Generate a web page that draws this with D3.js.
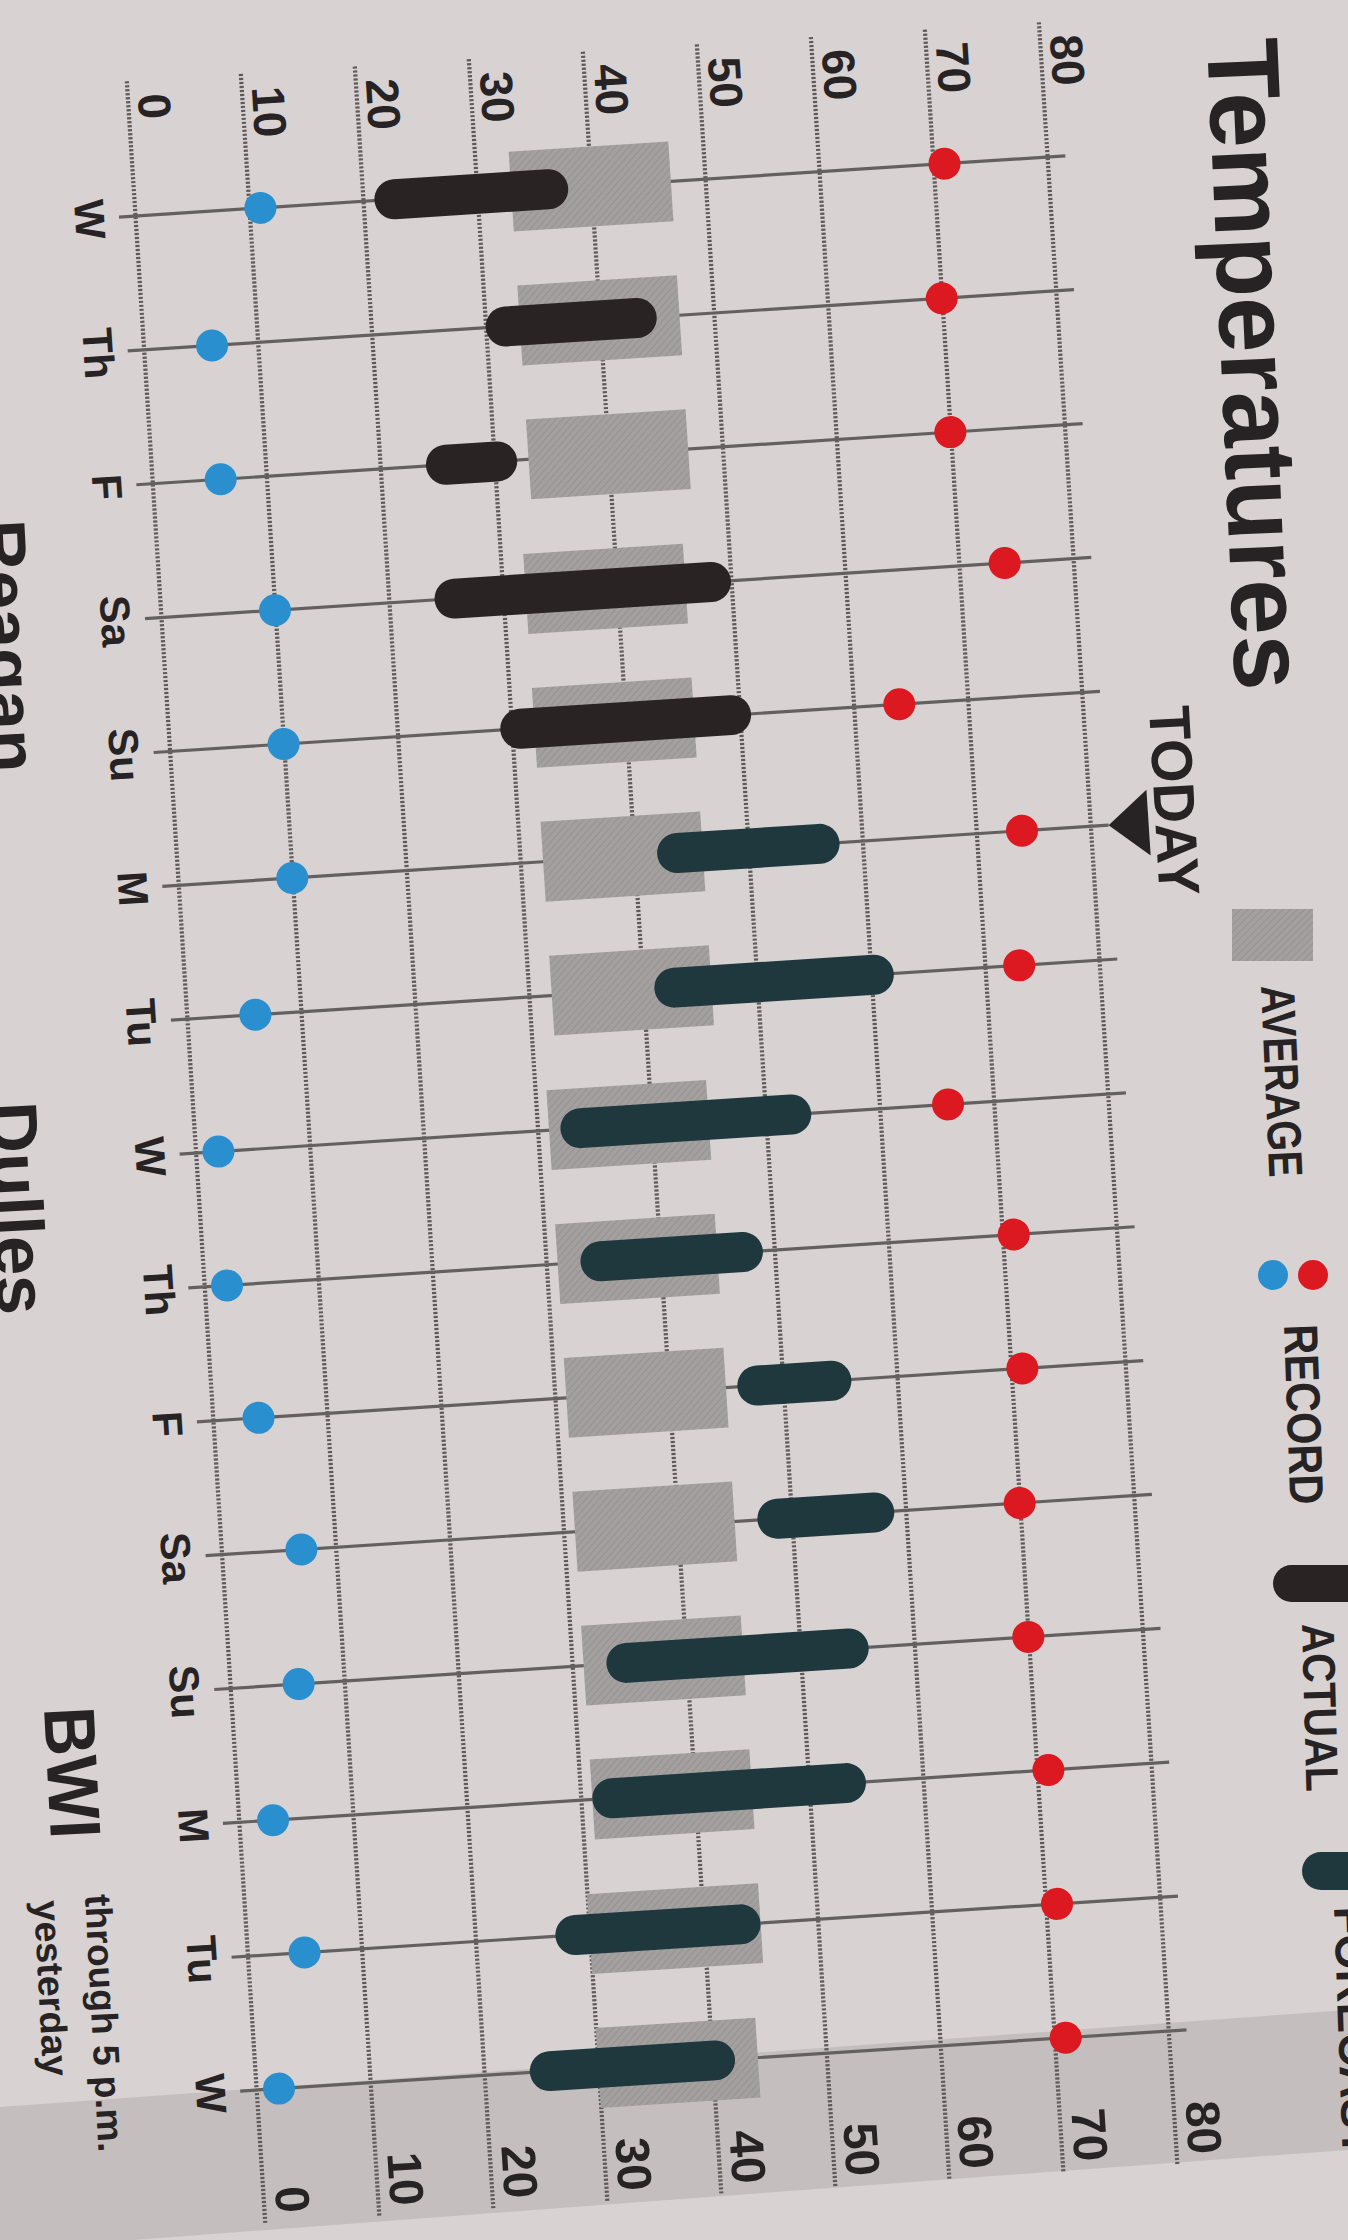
<!DOCTYPE html>
<html>
<head>
<meta charset="utf-8">
<script src="https://cdn.jsdelivr.net/npm/d3@7"></script>
<style>
  html, body { margin: 0; padding: 0; background: #d8d3d2; }
  svg { display: block; font-family: "Liberation Sans", Arial, sans-serif; }
</style>
</head>
<body>
<div id="chart"></div>
<script>
(function(){

/* ---------- data ---------- */
const days = ["W","Th","F","Sa","Su","M","Tu","W","Th","F","Sa","Su","M","Tu","W"];
const tempTicks = [0,10,20,30,40,50,60,70,80];

const recordHigh = [71,70,70,74,64,74,73,66,71,71,70,70,71,71,71];
const recordLow  = [11,6,6,10,10,10,6,2,2,4,7,6,3,5,2];

const avgLow  = [33,33,33,32,32,32,32,31,31,31,31,31,31,30,30];
const avgHigh = [47,47,47,46,46,46,46,45,45,45,45,45,45,45,44];

// W..Su already happened
const actualLow  = [21,30,24,24,29];
const actualHigh = [38,45,32,50,51];
// M (today) .. W
const forecastLow  = [42,41,32,33,46,47,33,31,27,24];
const forecastHigh = [58,62,54,49,56,59,56,55,45,42];
const todayIndex = 5;

/* ---------- page ---------- */
const W = 1348, H = 2240;
const ink = "#272324";

const svg = d3.select("#chart").append("svg")
    .attr("width", W).attr("height", H);

svg.append("rect").attr("width", W).attr("height", H).attr("fill", "#d8d3d2");

// darker fold / shadow across the bottom of the sheet
svg.append("path")
    .attr("d", "M0,2107 L1348,2010 L1348,2150 L600,2205 L0,2250Z")
    .attr("fill", "#c4bfbe");

const defs = svg.append("defs");
const hatch = defs.append("pattern")
    .attr("id", "hatch").attr("patternUnits", "userSpaceOnUse")
    .attr("width", 5).attr("height", 5)
    .attr("patternTransform", "rotate(45)");
hatch.append("rect").attr("width", 5).attr("height", 5).attr("fill", "#a4a0a0");
hatch.append("line").attr("x1", 0).attr("y1", 0).attr("x2", 0).attr("y2", 5)
    .attr("stroke", "#948f8f").attr("stroke-width", 1.6);

/* ---------- plot (sheet is turned 90deg and a little tilted) ---------- */
const x = d3.scaleLinear().domain([0, 80]).range([0, 914]);
const y = d3.scalePoint().domain(d3.range(days.length)).range([0, 1878]);

const plot = svg.append("g").attr("transform", "translate(135,216) rotate(-3.7)");

// temperature grid + top labels
const topAxis = plot.append("g").attr("transform", "translate(0,-135)")
    .call(d3.axisTop(x).tickValues(tempTicks).tickSize(-2147).tickPadding(0));
topAxis.select(".domain").remove();
topAxis.selectAll(".tick line")
    .attr("stroke", "#5f5a59").attr("stroke-width", 4.2)
    .attr("stroke-dasharray", "2.2,1.8");
topAxis.selectAll(".tick text")
    .attr("transform", "rotate(90)")
    .attr("x", 14).attr("y", -10).attr("dy", null)
    .attr("text-anchor", "start")
    .attr("font-size", 46).attr("font-weight", "bold").attr("fill", ink);

// bottom labels
const botAxis = plot.append("g").attr("transform", "translate(0,2003)")
    .call(d3.axisBottom(x).tickValues(tempTicks).tickSize(0));
botAxis.select(".domain").remove();
botAxis.selectAll(".tick text")
    .attr("transform", "rotate(90)")
    .attr("x", 0).attr("y", -12).attr("dy", null)
    .attr("text-anchor", "end")
    .attr("font-size", 48).attr("font-weight", "bold").attr("fill", ink);

// day labels
const dayAxis = plot.append("g")
    .call(d3.axisLeft(y).tickFormat(i => days[i]).tickSize(0));
dayAxis.select(".domain").remove();
dayAxis.selectAll(".tick text")
    .attr("transform", "rotate(90)")
    .attr("x", 0).attr("y", 60).attr("dy", null)
    .attr("text-anchor", "middle")
    .attr("font-size", 42).attr("font-weight", "bold").attr("fill", ink);

// day lines
plot.append("g").selectAll("line")
    .data(d3.range(days.length))
    .join("line")
    .attr("x1", x(-1.4)).attr("x2", x(81.6))
    .attr("y1", d => y(d)).attr("y2", d => y(d))
    .attr("stroke", "#646060").attr("stroke-width", 3.2);

// average boxes
const boxH = 80;
plot.append("g").selectAll("rect")
    .data(d3.range(days.length))
    .join("rect")
    .attr("x", i => x(avgLow[i]))
    .attr("width", i => x(avgHigh[i]) - x(avgLow[i]))
    .attr("y", i => y(i) - boxH / 2)
    .attr("height", boxH)
    .attr("fill", "url(#hatch)");

// actual + forecast bars
const barH = 40;
const bars = actualLow.map((lo, i) => ({i, lo, hi: actualHigh[i], kind: "actual"}))
    .concat(forecastLow.map((lo, k) => ({i: k + todayIndex, lo, hi: forecastHigh[k], kind: "forecast"})));

plot.append("g").selectAll("rect")
    .data(bars)
    .join("rect")
    .attr("x", d => x(d.lo))
    .attr("width", d => x(d.hi) - x(d.lo))
    .attr("y", d => y(d.i) - barH / 2)
    .attr("height", barH)
    .attr("rx", barH / 2)
    .attr("fill", d => d.kind === "actual" ? "#2a2324" : "#1f383d");

// record dots
plot.append("g").selectAll("circle")
    .data(recordHigh)
    .join("circle")
    .attr("cx", d => x(d)).attr("cy", (d, i) => y(i))
    .attr("r", 16).attr("fill", "#dc1820");

plot.append("g").selectAll("circle")
    .data(recordLow)
    .join("circle")
    .attr("cx", d => x(d)).attr("cy", (d, i) => y(i))
    .attr("r", 16).attr("fill", "#2a8fcf");

// today marker
const tx = x(81.6), ty = y(todayIndex);
plot.append("path")
    .attr("d", `M${tx},${ty} L${tx + 40},${ty - 33} L${tx + 40},${ty + 33}Z`)
    .attr("fill", ink);

/* ---------- text around the chart ---------- */
function sideText(t, px, py, size, rot, len) {
    const el = svg.append("text")
        .attr("transform", `translate(${px},${py}) rotate(${rot})`)
        .attr("font-size", size).attr("font-weight", "bold")
        .attr("fill", ink).text(t);
    if (len) el.attr("textLength", len).attr("lengthAdjust", "spacingAndGlyphs");
    return el;
}

sideText("Temperatures", 1207, 40, 102, 87.5, 652);
sideText("TODAY", 1149, 707, 58, 86.8, 190);

// legend swatches
svg.append("rect")
    .attr("x", 1232).attr("y", 909).attr("width", 81).attr("height", 52)
    .attr("fill", "url(#hatch)");
sideText("AVERAGE", 1261, 986, 48, 87.5, 192);

svg.append("circle").attr("cx", 1273).attr("cy", 1275).attr("r", 15).attr("fill", "#2a8fcf");
svg.append("circle").attr("cx", 1313).attr("cy", 1275).attr("r", 15).attr("fill", "#dc1820");
sideText("RECORD", 1284, 1325, 48, 88, 180);

svg.append("rect")
    .attr("x", 1273).attr("y", 1565).attr("width", 140).attr("height", 37)
    .attr("rx", 18.5).attr("fill", "#2a2324");
sideText("ACTUAL", 1302, 1624, 46, 88.5, 168);

svg.append("rect")
    .attr("x", 1302).attr("y", 1852).attr("width", 120).attr("height", 38)
    .attr("rx", 19).attr("fill", "#1f383d");
sideText("FORECAST", 1334, 1907, 48, 88, 250);

// neighbouring headers on the page, cut by the edge
sideText("Reagan", -24, 521, 70, 87);
sideText("Dulles", -13, 1103, 71, 87);
sideText("BWI", 44, 1708, 72, 87, 132);
sideText("through 5 p.m.", 85, 1895, 37, 87, 258);
sideText("yesterday", 34, 1901, 37, 87, 176);

})();
</script>
</body>
</html>
